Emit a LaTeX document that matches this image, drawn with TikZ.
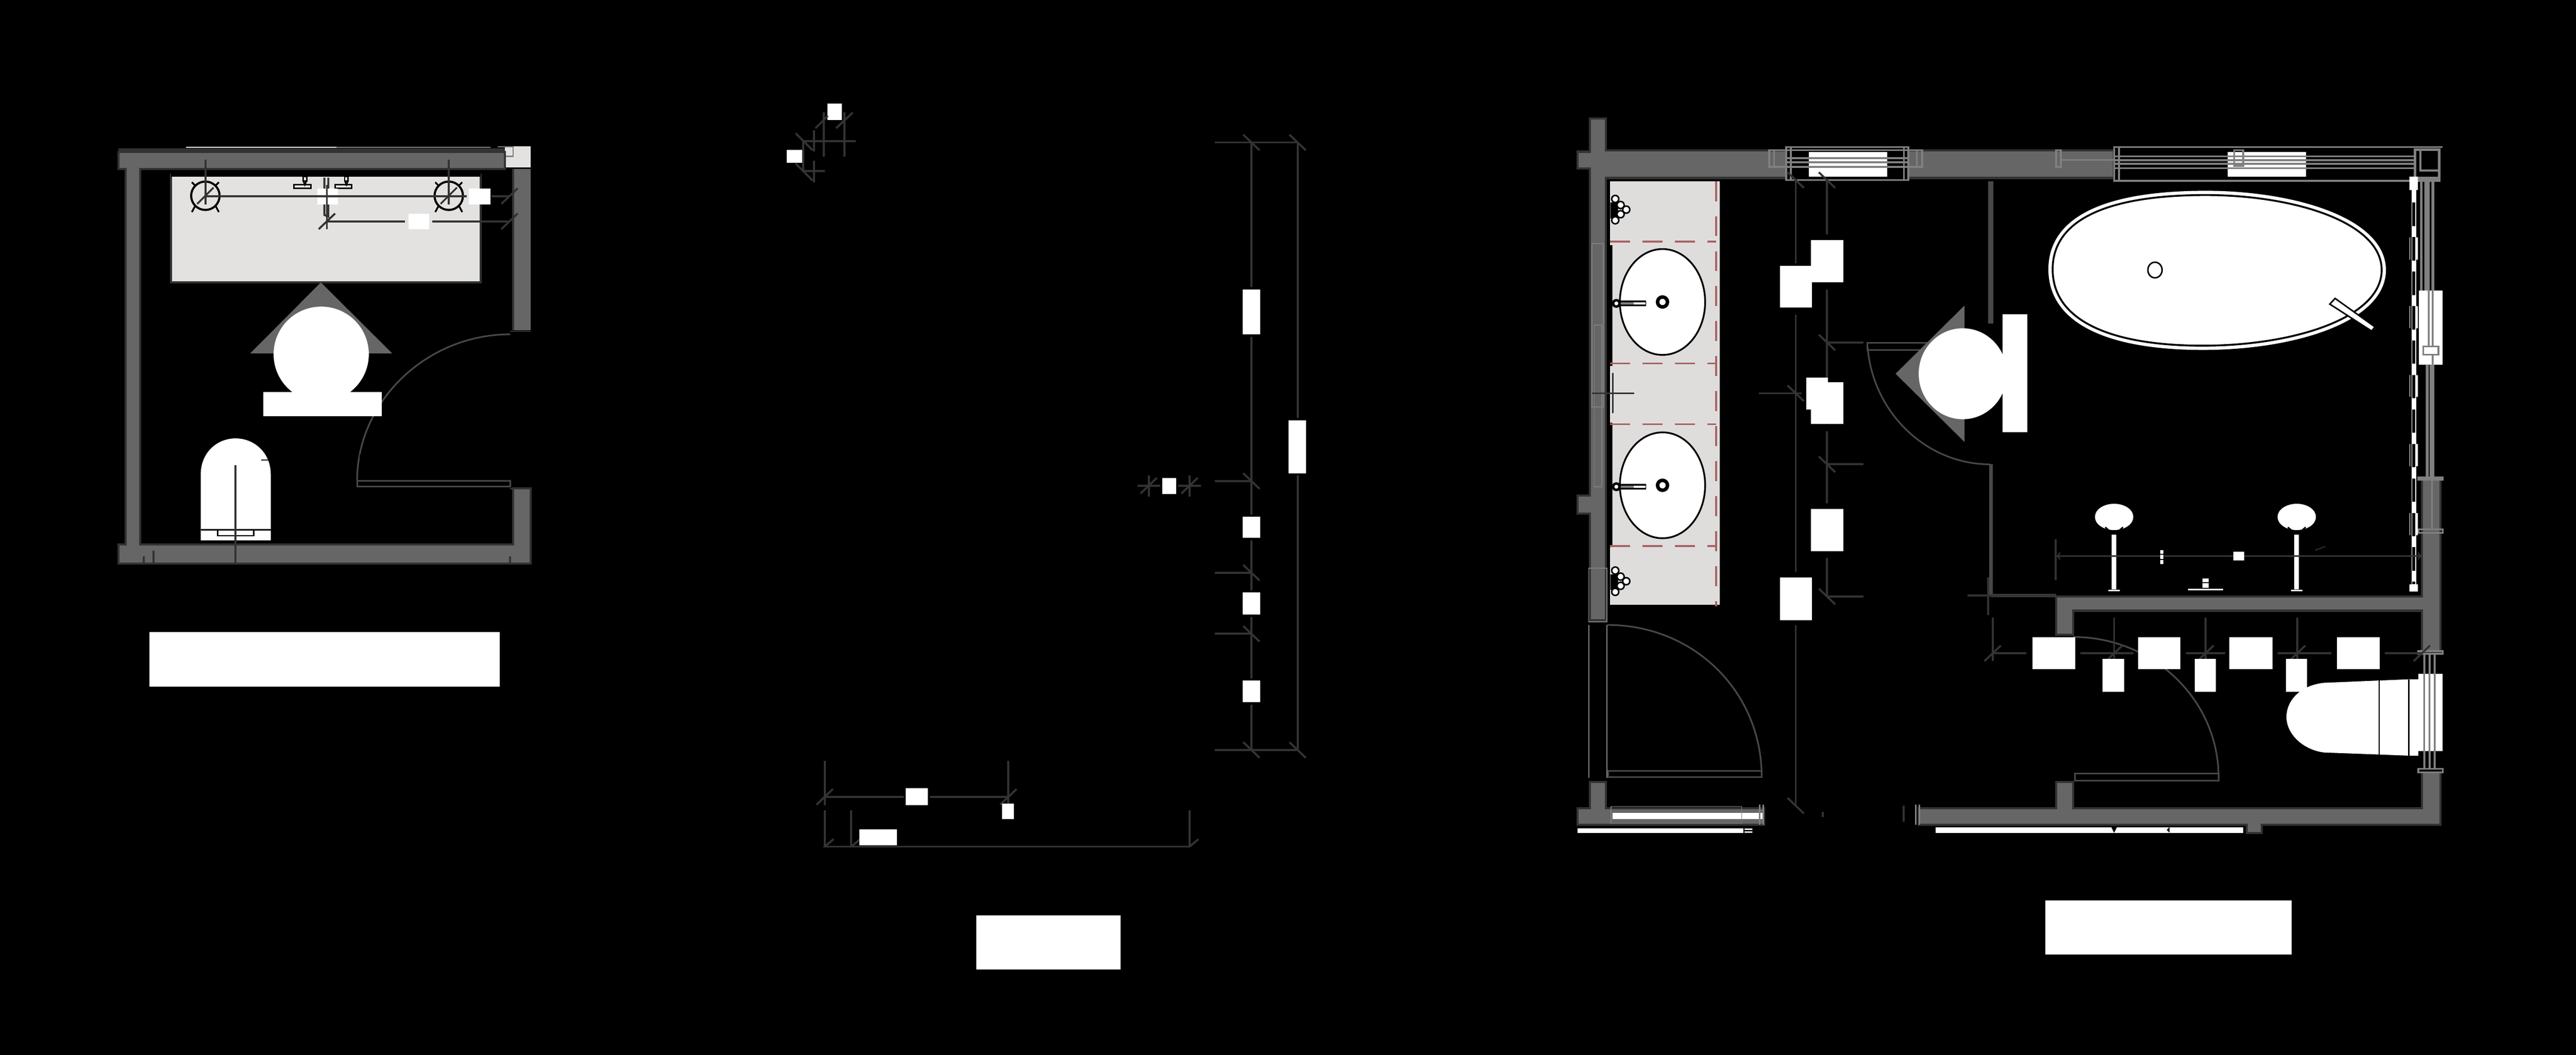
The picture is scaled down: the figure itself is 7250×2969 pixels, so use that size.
\documentclass[tikz,border=0pt]{standalone}
\newcommand{\tickup}[2]{\draw[dimline] (#1-23,#2+22) -- (#1+23,#2-22);}
\newcommand{\tickdn}[2]{\draw[dimline] (#1-23,#2-22) -- (#1+23,#2+22);}
\newcommand{\tubpath}{(5777,758) .. controls (5777,612) and (5945,549) .. (6208,549) .. controls (6455,549) and (6703,625) .. (6703,760) .. controls (6703,895) and (6455,973) .. (6200,973) .. controls (5945,973) and (5777,905) .. (5777,758) -- cycle}
\begin{document}
\begin{tikzpicture}[x=0.01cm,y=-0.01cm,
    wallfill/.style={fill=wallgray,draw=walledge,line width=1.7pt,line join=miter},
    dimline/.style={draw=walledge,line width=1.6pt},
    doorline/.style={draw=doorgray,line width=1.3pt},
    glassline/.style={draw=glassgray,line width=1.4pt},
    cutline/.style={draw=brickred,line width=1.7pt}]
  \definecolor{wallgray}{HTML}{666666}
  \definecolor{walledge}{HTML}{333333}
  \definecolor{doorgray}{HTML}{484848}
  \definecolor{glassgray}{HTML}{808080}
  \definecolor{stonegray}{HTML}{E4E2E1}
  \definecolor{brickred}{HTML}{A86464}
  \useasboundingbox (0,0) rectangle (7250,2969);
  \fill[black] (0,0) rectangle (7250,2969);

  % first plan
  \fill[walledge] (333,417) rectangle (1421,426);
  \fill[white] (524,413) rectangle (947,416);
  \fill[glassgray] (947,413) rectangle (1380,416);
  \fill[stonegray] (1421,412) rectangle (1494,471);
  \draw[glassgray,line width=1pt] (1400,413) -- (1444,413) -- (1444,440) -- (1400,440);
  \draw[wallfill] (333,428) -- (1421,428) -- (1421,475) -- (395,475) -- (395,1532) -- (1444,1532) -- (1444,1375) -- (1494,1375) -- (1494,1586) -- (333,1586) -- (333,1532) -- (354,1532) -- (354,475) -- (333,475) -- cycle;
  \fill[wallgray] (1444,475) rectangle (1494,930);
  \draw[walledge,line width=1.7pt] (1444,475) -- (1444,930);
  \draw[walledge,line width=1pt] (1436,932) -- (1494,932) (1436,1375) -- (1494,1375);
  \draw[fill=stonegray,draw=walledge,line width=1.7pt] (482,491) rectangle (1353,795);
  \fill[black] (482,484) rectangle (1353,497);
  % basins on the first plan
  \draw[black,line width=1.7pt] (578,551) circle (40) (1263,551) circle (40);
  \draw[black,line width=1.4pt] (549,522) -- (540,513) (607,522) -- (616,513) (549,580) -- (540,597) (607,580) -- (616,597);
  \draw[black,line width=1.4pt] (1234,522) -- (1225,513) (1292,522) -- (1301,513) (1234,580) -- (1225,597) (1292,580) -- (1301,597);
  \draw[black,line width=1.2pt,fill=white] (827,520) rectangle (875,530) (943,520) rectangle (990,530);
  \draw[black,line width=1.2pt,fill=white] (853,497) rectangle (863,510) (970,497) rectangle (980,510);
  \draw[black,line width=1.2pt] (854,510) -- (858,520) -- (862,510) (971,510) -- (975,520) -- (979,510);
  % dimensions on the first plan
  \draw[dimline] (578,450) -- (578,576) (1263,450) -- (1263,576);
  \draw[dimline] (578,552) -- (1313,552) (1383,552) -- (1434,552);
  \draw[dimline] (920,623) -- (1140,623) (1216,623) -- (1434,623);
  \draw[dimline] (913,500) -- (913,605) -- (924,610) -- (924,500);
  \draw[dimline] (920,520) -- (920,645);
  \draw[walledge,line width=1.4pt] (555,574) -- (601,528) (1240,574) -- (1286,528);
  \tickup{1434}{552}
  \tickup{1434}{623}
  \tickup{920}{623}
  \fill[white] (893,530) rectangle (951,575);
  \draw[dimline] (890,552) -- (952,552) (920,520) -- (920,575);
  \fill[white] (1320,530) rectangle (1380,575);
  \fill[white] (1150,602) rectangle (1208,645);
  % stool with the mirror triangle
  \fill[wallgray] (903,795) -- (1104,995) -- (704,995) -- cycle;
  \fill[white] (904,997) circle (134);
  % door of the first plan
  \draw[doorline] (1436,941) .. controls (1200,941) and (1005,1130) .. (1005,1353);
  \draw[doorline] (1005,1353) rectangle (1436,1370);
  \fill[black] (1012,1281) rectangle (1022,1292);
  \fill[white] (741,1104) rectangle (1074,1172);
  % water closet of the first plan
  \fill[white] (565,1521) -- (565,1335) .. controls (565,1275) and (610,1234) .. (663,1234) .. controls (716,1234) and (762,1275) .. (762,1335) -- (762,1521) -- cycle;
  \draw[black,line width=1.2pt] (565,1491) -- (762,1491);
  \draw[black,line width=1.2pt] (613,1493) -- (613,1508) -- (714,1508) -- (714,1493);
  \draw[black,line width=1pt] (735,1295) -- (757,1295);
  \draw[dimline] (663,1310) -- (663,1586);
  \draw[dimline] (432,1550) -- (432,1586) (405,1566) -- (405,1586) (1435,1566) -- (1435,1586);
  \fill[white] (420,1779) rectangle (1407,1933);

  % second plan, dimensions only
  \fill[white] (2329,291) rectangle (2369,338);
  \fill[white] (2214,422) rectangle (2260,458);
  \draw[dimline] (2259,397) -- (2409,397) (2291,367) -- (2291,426) (2318,316) -- (2318,441) (2377,316) -- (2377,441);
  \draw[dimline] (2260,397) -- (2260,482) -- (2322,482) (2291,452) -- (2291,514);
  \draw[dimline] (2239,375) -- (2287,423) (2239,460) -- (2287,508) (2295,361) -- (2330,326) (2353,361) -- (2400,317);
  \draw[dimline] (3522,401) -- (3522,808) (3522,948) -- (3522,1448) (3522,1521) -- (3522,1661) (3522,1737) -- (3522,1909) (3522,1984) -- (3522,2111);
  \draw[dimline] (3652,401) -- (3652,1176) (3652,1338) -- (3652,2111);
  \draw[dimline] (3419,401) -- (3652,401) (3419,1354) -- (3522,1354) (3419,1612) -- (3522,1612) (3419,1784) -- (3522,1784) (3419,2111) -- (3652,2111);
  \tickdn{3522}{401}
  \tickdn{3652}{401}
  \tickdn{3522}{1354}
  \tickdn{3522}{1612}
  \tickdn{3522}{1784}
  \tickdn{3522}{2111}
  \tickdn{3652}{2111}
  \fill[white] (3498,815) rectangle (3547,941);
  \fill[white] (3498,1455) rectangle (3547,1514);
  \fill[white] (3498,1668) rectangle (3547,1730);
  \fill[white] (3498,1916) rectangle (3547,1977);
  \fill[white] (3627,1183) rectangle (3675,1332);
  \draw[dimline] (3202,1367) -- (3266,1367) (3316,1367) -- (3380,1367) (3233,1338) -- (3233,1398) (3348,1338) -- (3348,1398);
  \tickup{3233}{1367}
  \tickup{3348}{1367}
  \fill[white] (3271,1345) rectangle (3311,1391);
  \draw[dimline] (2321,2243) -- (2543,2243) (2617,2243) -- (2838,2243) (2321,2141) -- (2321,2266) (2838,2141) -- (2838,2266);
  \tickup{2321}{2243}
  \tickup{2838}{2243}
  \fill[white] (2549,2219) rectangle (2611,2266);
  \fill[white] (2820,2262) rectangle (2853,2306);
  \draw[dimline] (2317,2383) -- (3349,2383) (2321,2281) -- (2321,2383) (2396,2281) -- (2396,2383) (3348,2281) -- (3348,2383);
  \draw[dimline] (2321,2383) -- (2346,2362) (2396,2383) -- (2421,2362) (3348,2383) -- (3373,2362);
  \fill[white] (2419,2335) rectangle (2525,2379);
  \fill[white] (2747,2576) rectangle (3154,2729);

  % third plan, walls
  \draw[wallfill] (4475,333) -- (4520,333) -- (4520,423) -- (5027,423) -- (5027,501) -- (4520,501) -- (4520,1746) -- (4475,1746) -- (4475,1445) -- (4440,1445) -- (4440,1395) -- (4475,1395) -- (4475,474) -- (4440,474) -- (4440,427) -- (4475,427) -- cycle;
  \draw[wallfill] (5371,423) -- (5950,423) -- (5950,501) -- (5371,501) -- cycle;
  \draw[wallfill] (4475,2201) -- (4520,2201) -- (4520,2275) -- (4965,2275) -- (4965,2321) -- (4440,2321) -- (4440,2275) -- (4475,2275) -- cycle;
  \draw[wallfill] (5400,2275) -- (5787,2275) -- (5787,2201) -- (5835,2201) -- (5835,2275) -- (6816,2275) -- (6816,2174) -- (6868,2174) -- (6868,2321) -- (6366,2321) -- (6366,2344) -- (6323,2344) -- (6323,2321) -- (5400,2321) -- cycle;
  \draw[wallfill] (5787,1679) -- (6816,1679) -- (6816,1344) -- (6868,1344) -- (6868,1833) -- (6816,1833) -- (6816,1719) -- (5835,1719) -- (5835,1786) -- (5787,1786) -- cycle;
  \fill[white] (4539,2288) rectangle (4963,2305);
  \draw[glassgray,line width=.6pt] (4534,2270) rectangle (4902,2318);
  \fill[white] (4440,2332) rectangle (4907,2344);
  \fill[white] (4910,2332) rectangle (4932,2336) (4910,2340) rectangle (4932,2344);
  \fill[white] (5448,2328) rectangle (6313,2344);
  \fill[black] (5950,2344) -- (5958,2328) -- (5942,2328) -- cycle;
  \fill[black] (6098,2336) -- (6106,2328) -- (6106,2344) -- cycle;
  \draw[glassgray,line width=1.2pt] (4953,2265) -- (4953,2321) (4963,2265) -- (4963,2321) (5392,2265) -- (5392,2321) (5402,2265) -- (5402,2321);
  % windows on the third plan
  \fill[white] (5091,428) rectangle (5311,497);
  \fill[white] (6270,428) rectangle (6490,497);
  \draw[glassline] (5027,414) -- (5371,414) (5027,507) -- (5371,507);
  \draw[glassline] (4985,423) -- (5410,423) (4985,470) -- (5410,470) (5027,457) -- (5371,457) (5027,445) -- (5371,445);
  \draw[glassline] (4979,423) rectangle (4993,470) (5395,423) rectangle (5410,470);
  \draw[glassline] (5027,414) rectangle (5040,507) (5358,414) rectangle (5371,507);
  \draw[glassline] (5787,423) rectangle (5800,470);
  \draw[glassline] (5800,450) -- (5950,450);
  \draw[glassline] (5950,414) -- (6875,414) (5950,509) -- (6868,509);
  \draw[glassline] (5950,414) rectangle (5964,509);
  \draw[glassline] (5950,440) -- (6793,440) (5950,451) -- (6793,451) (5950,461) -- (6793,461) (5950,473) -- (6793,473);
  \draw[glassline] (6288,423) rectangle (6313,467);
  \draw[glassline,line width=2pt] (6797,421) rectangle (6865,507);
  \draw[glassline] (6812,421) -- (6812,480) -- (6865,480) (6812,447) -- (6812,480) (6797,500) -- (6865,500);
  % glass and pipes on the right side
  \fill[glassgray] (6811,507) rectangle (6818,818) (6823,507) rectangle (6838,818) (6843,507) rectangle (6851,818);
  \fill[white] (6807,818) rectangle (6875,1026);
  \fill[glassgray] (6833,818) rectangle (6838,975) (6844,818) rectangle (6849,1026);
  \draw[glassline,fill=white] (6820,975) rectangle (6863,998);
  \fill[glassgray] (6827,1026) rectangle (6835,1344) (6838,1026) rectangle (6851,1344);
  \draw[glassline] (6806,1344) rectangle (6875,1350) (6806,1490) rectangle (6875,1500) (6806,1833) rectangle (6875,1840) (6806,2164) rectangle (6875,2174);
  \draw[glassline] (6845,1350) -- (6845,1490);
  \fill[glassgray] (6820,1840) rectangle (6826,2164) (6835,1840) rectangle (6841,2164) (6849,1840) rectangle (6855,2164);
  \fill[white] (6806,1896) rectangle (6875,2114);
  \fill[glassgray] (6835,1896) rectangle (6840,2114) (6850,1896) rectangle (6855,2114) (6820,1896) rectangle (6825,2114);
  % shower screen
  \fill[white] (6788,497) rectangle (6800,1665);
  \fill[white] (6781,497) rectangle (6805,535) (6781,1645) rectangle (6805,1665);
  \fill[white] (6797,668) rectangle (6805,731) (6797,862) rectangle (6805,924) (6797,1056) rectangle (6805,1117) (6797,1250) rectangle (6805,1312);
  \fill[white] (6797,1444) rectangle (6805,1506);
  \draw[white,line width=.5pt] (6782,668) -- (6782,731) (6782,862) -- (6782,924) (6782,1056) -- (6782,1117) (6782,1250) -- (6782,1312) (6782,1444) -- (6782,1506);
  \draw[black,line width=2.4pt,dash pattern=on 18.8pt off 8.8pt] (6793,570) -- (6793,1645);
  % counter and washbasins
  \fill[stonegray!95!gray] (4531,510) rectangle (4840,1706);
  \draw[black,line width=2pt] (4530,1706) -- (4848,1706) -- (4848,510);
  \fill[black] (4527,690) rectangle (4538,1030) (4527,1190) rectangle (4538,1540);
  \draw[cutline,dash pattern=on 16pt off 12pt] (4830,510) -- (4830,1706);
  \draw[cutline,line width=1.3pt,dash pattern=on 16pt off 10pt] (4531,680) -- (4830,680) (4531,1023) -- (4830,1023) (4531,1194) -- (4830,1194) (4531,1537) -- (4830,1537);
  \draw[black,fill=white,line width=1.4pt] (4679,850) ellipse (120 and 149);
  \draw[black,fill=white,line width=1.4pt] (4679,1366) ellipse (120 and 149);
  \draw[black,fill=white,line width=2.8pt] (4679,850) ellipse (14 and 14) (4679,1366) ellipse (14 and 14);
  \fill[black] (4539,846) rectangle (4633,862) (4539,1362) rectangle (4633,1378);
  \fill[white] (4598,851) rectangle (4631,857) (4598,1367) rectangle (4631,1373);
  \fill[glassgray] (4560,851) rectangle (4598,857) (4560,1367) rectangle (4598,1373);
  \draw[black,fill=white,line width=2pt] (4549,854) circle (9) (4549,1370) circle (9);
  % soap holders
  \fill[black] (4532,570) rectangle (4554,615) (4532,1617) rectangle (4554,1660);
  \draw[black,fill=white,line width=1.2pt] (4546,560) circle (10) (4561,577) circle (10) (4577,590) circle (10) (4561,603) circle (10) (4546,620) circle (10);
  \draw[black,fill=white,line width=1.2pt] (4546,1606) circle (10) (4561,1623) circle (10) (4577,1636) circle (10) (4561,1649) circle (10) (4546,1666) circle (10);
  \draw[glassgray,line width=.8pt] (4481,686) rectangle (4513,1145) (4487,915) rectangle (4508,1370) (4471,1600) rectangle (4523,1750);
  \draw[dimline,line width=1pt] (4481,1107) -- (4599,1107) (4539,1050) -- (4539,1163);
  % dimensions by the counter
  \draw[dimline] (5054,507) -- (5054,741) (5054,886) -- (5054,1610) (5054,1760) -- (5054,2268);
  \draw[dimline] (5142,507) -- (5142,660) (5142,815) -- (5142,1070) (5142,1214) -- (5142,1416) (5142,1570) -- (5142,1679);
  \draw[dimline] (5142,964) -- (5245,964) (5142,1307) -- (5245,1307) (5142,1679) -- (5245,1679) (4950,1107) -- (5070,1107);
  \tickdn{5054}{507}
  \tickdn{5142}{507}
  \tickdn{5142}{964}
  \tickdn{5142}{1307}
  \tickdn{5142}{1679}
  \tickdn{5054}{1107}
  \tickdn{5054}{2268}
  \fill[white] (5009,748) rectangle (5100,865);
  \fill[white] (5097,676) rectangle (5188,795);
  \fill[white] (5084,1063) rectangle (5144,1153);
  \fill[white] (5097,1076) rectangle (5188,1194);
  \fill[white] (5097,1433) rectangle (5188,1552);
  \fill[white] (5009,1625) rectangle (5100,1746);
  \draw[dimline] (5130,2285) -- (5130,2300);
  \draw[dimline] (5358,2268) -- (5358,2312);
  % partition and door behind the stool
  \draw[doorline,line width=4pt] (5603,510) -- (5603,910);
  \draw[doorline,line width=3pt] (5603,1307) -- (5603,1676);
  \draw[doorline,line width=2.6pt] (5603,1676) -- (5787,1676);
  \draw[doorline] (5256,965) rectangle (5480,985);
  \draw[doorline] (5256,975) .. controls (5270,1160) and (5420,1307) .. (5601,1307);
  \fill[wallgray] (5335,1052) -- (5529,860) -- (5529,1244) -- cycle;
  \fill[white] (5524,1052) ellipse (124 and 128);
  \fill[white] (5636,885) rectangle (5706,1217);
  \draw[dimline] (5538,1676) -- (5787,1676) (5596,1625) -- (5596,1732);
  % left door
  \draw[glassgray,line width=.8pt] (4472,1759) -- (4472,2190) (4522,1759) -- (4522,2190);
  \draw[doorline] (4524,1759) .. controls (4770,1759) and (4958,1950) .. (4958,2185);
  \draw[doorline] (4526,2170) rectangle (4958,2187);
  % bathtub
  \draw[fill=white,draw=white,line width=6.8pt] \tubpath;
  \draw[black,line width=1.5pt] \tubpath;
  \draw[black,line width=1.2pt] (6065,760) ellipse (20 and 22);
  \draw[black,fill=white,line width=1.2pt] (6557,856) -- (6572,840) -- (6684,920) -- (6675,932) -- cycle;
  % lamps over the tub wall
  \fill[white] (5950,1455) ellipse (54 and 37) (6464,1455) ellipse (54 and 37);
  \draw[black,line width=1.2pt] (5925,1484) -- (5940,1497) -- (5960,1497) -- (5975,1484) (6439,1484) -- (6454,1497) -- (6474,1497) -- (6489,1484);
  \fill[white] (5943,1505) rectangle (5956,1659) (6457,1505) rectangle (6470,1659);
  \fill[white] (5934,1660) rectangle (5966,1664) (6448,1660) rectangle (6480,1664);
  \fill[white] (6199,1628) rectangle (6216,1655);
  \fill[white] (6158,1658) rectangle (6256,1661);
  \draw[black,line width=1pt] (6199,1640) -- (6216,1640);
  \draw[dimline] (5785,1518) -- (5785,1632);
  \draw[dimline,line width=1.2pt,{to}-{to}] (5787,1565) -- (6816,1565);
  \fill[white] (6285,1553) rectangle (6316,1578);
  \fill[white] (6080,1548) rectangle (6089,1588);
  \draw[black,line width=.8pt] (6080,1560) -- (6089,1560) (6080,1575) -- (6089,1575);
  \draw[walledge,line width=.8pt] (6516,1549) -- (6544,1538);
  % door and dimensions under the partition wall
  \draw[doorline] (5835,1793) .. controls (6060,1793) and (6244,1970) .. (6244,2188);
  \draw[doorline] (5840,2177) rectangle (6244,2197);
  \draw[dimline] (5608,1839) -- (5703,1839) (5855,1839) -- (6005,1839) (6152,1839) -- (6262,1839) (6410,1839) -- (6561,1839) (6712,1839) -- (6816,1839);
  \draw[dimline] (5608,1739) -- (5608,1860) (5950,1739) -- (5950,1860) (6207,1739) -- (6207,1860) (6465,1739) -- (6465,1860);
  \tickup{5608}{1839}
  \tickup{5950}{1839}
  \tickup{6207}{1839}
  \tickup{6465}{1839}
  \tickup{6816}{1839}
  \fill[white] (5720,1794) rectangle (5840,1884);
  \fill[white] (6017,1794) rectangle (6137,1884);
  \fill[white] (6274,1794) rectangle (6396,1884);
  \fill[white] (6577,1794) rectangle (6697,1884);
  \fill[white] (5918,1854) rectangle (5979,1947);
  \fill[white] (6177,1854) rectangle (6236,1947);
  \fill[white] (6433,1854) rectangle (6493,1947);
  % water closet of the third plan
  \fill[white] (6780,1912) -- (6540,1922) .. controls (6470,1930) and (6435,1975) .. (6435,2018) .. controls (6435,2065) and (6480,2110) .. (6540,2118) -- (6780,2127) -- (6806,2127) -- (6806,1912) -- cycle;
  \draw[black,line width=1.2pt] (6696,1915) -- (6696,2125) (6780,1912) -- (6780,2127);
  \fill[white] (5757,2534) rectangle (6450,2687);
\end{tikzpicture}
\end{document}
